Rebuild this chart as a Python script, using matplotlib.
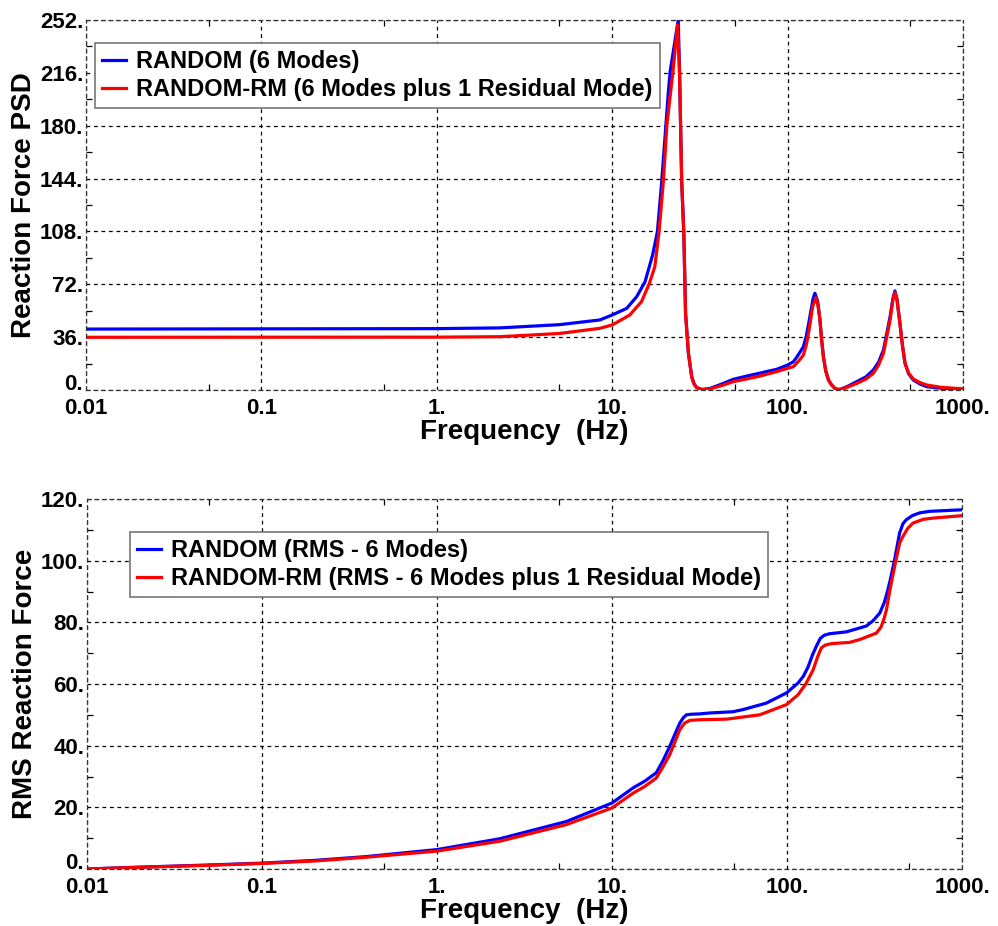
import matplotlib
matplotlib.use('Agg')
import matplotlib.pyplot as plt
from matplotlib.ticker import FixedLocator, FixedFormatter, MultipleLocator

plt.rcParams['font.family'] = ['Liberation Sans', 'DejaVu Sans']
plt.rcParams['font.weight'] = 'bold'

# ---------------- data: Reaction Force PSD ----------------
psd_freq_random = [0.01, 1, 2.29, 5, 8.5, 10, 12.1, 13.8, 15.4, 17.0, 18.1, 19.1, 20.9, 21.4,
                   23.8, 24.2, 24.9, 25.6, 26.2, 27.2, 28.4, 29.2, 30.2, 32.4, 36.1, 42, 49.1,
                   60, 69.6, 86.7, 100, 108, 113, 118, 123, 128, 133, 139.6, 143, 148, 153,
                   156, 160, 165, 171, 178, 186, 193, 200, 220, 248, 280, 308, 330, 352,
                   384, 398, 409, 420, 437, 452, 467, 490, 521, 570, 621, 750, 1000]
psd_random = [41.5, 41.8, 42.3, 44.5, 47.7, 51.1, 55.6, 63.6, 73.8, 92.0, 107.8, 140.0, 203.0, 217.0,
              252.0, 217.0, 142.0, 107.0, 52.0, 25.0, 9.0, 4.5, 1.8, 0.3, 1.1, 4.0, 7.3,
              9.8, 11.5, 14.1, 17.0, 19.3, 22.5, 26.0, 29.5, 37.0, 47.7, 62.0, 65.9, 61.0, 47.7,
              35.0, 22.7, 13.0, 6.8, 3.5, 1.1, 0.5, 0.5, 2.5, 5.7, 9.0, 13.6, 19.0, 27.2,
              49.9, 62.0, 67.5, 62.0, 45.4, 30.0, 18.2, 11.0, 6.8, 4.0, 2.3, 1.2, 0.5]

psd_freq_rm = [0.01, 1, 2.29, 5, 8.5, 10, 12.6, 14.7, 16.3, 17.5, 18.5, 19.6, 20.5, 22.2,
               23.6, 24.2, 24.9, 25.6, 26.2, 27.2, 28.4, 29.2, 30.2, 32.4, 36.1, 42, 49.1,
               60, 69.6, 86.7, 100, 108, 113, 118, 123, 128, 133, 139, 145, 149, 153,
               156, 160, 165, 171, 178, 186, 193, 200, 220, 248, 280, 308, 330, 352,
               384, 398, 409, 420, 437, 452, 467, 490, 521, 570, 621, 750, 1000]
psd_rm = [35.9, 36.0, 36.3, 38.5, 42.0, 44.3, 51.1, 60.2, 72.7, 84.0, 107.8, 143.0, 180.5, 217.0,
          248.6, 217.0, 142.0, 107.0, 52.0, 25.0, 9.0, 4.5, 1.8, 0.3, 0.8, 3.0, 5.7,
          7.8, 9.5, 12.5, 14.8, 15.9, 18.5, 21.0, 23.8, 31.0, 42.0, 57.0, 62.9, 58.0, 47.7,
          35.0, 22.7, 13.0, 6.8, 3.5, 1.1, 0.3, 0.3, 2.0, 4.5, 7.5, 11.3, 17.0, 25.0,
          47.7, 61.0, 66.5, 62.0, 45.4, 30.0, 18.5, 11.5, 7.5, 5.0, 3.4, 1.8, 0.8]

# ---------------- data: RMS Reaction Force ----------------
rms_freq_random = [0.01, 0.02, 0.05, 0.1, 0.2, 0.39, 1, 2.28, 5.49, 10, 13.2, 15.4, 17.9, 19.5,
                   21.4, 23, 24.4, 25.5, 26.6, 28.5, 31.7, 36.1, 49.1, 56.1, 76.2, 99.3,
                   115.6, 124, 131.9, 140, 147, 155, 163, 175, 218, 284, 310, 339, 360, 375,
                   390, 412, 440, 460, 481, 520, 573, 653, 1000]
rms_random = [0.0, 0.6, 1.3, 1.9, 2.8, 4.0, 6.3, 9.8, 15.4, 21.4, 26.3, 28.5, 31.2, 35.0,
              39.8, 44.0, 47.3, 49.0, 50.0, 50.2, 50.3, 50.6, 51.0, 51.7, 53.8, 57.1,
              60.3, 62.5, 65.5, 69.5, 72.2, 74.8, 75.8, 76.3, 76.9, 78.8, 80.5, 83.0, 86.5, 90.0,
              94.0, 100.3, 109.0, 112.0, 113.3, 114.6, 115.5, 116.0, 116.5]

rms_freq_rm = [0.01, 0.02, 0.05, 0.1, 0.2, 0.39, 1, 2.28, 5.49, 10, 13.2, 15.4, 17.9, 19.5,
               21.4, 23, 24.4, 26, 27.8, 31.7, 45.1, 69.8, 99.3, 115.6, 128, 135, 141, 150,
               157, 165, 180, 228, 260, 324, 345, 360, 370, 386, 400, 412, 440, 460, 490,
               525, 600, 682, 1000]
rms_rm = [0.0, 0.55, 1.2, 1.8, 2.6, 3.8, 5.8, 9.0, 14.4, 19.8, 24.6, 26.8, 29.5, 33.0,
          37.1, 41.5, 45.2, 47.3, 48.2, 48.4, 48.6, 50.0, 53.3, 56.5, 60.0, 62.5, 64.6, 69.0,
          71.7, 72.6, 73.1, 73.5, 74.4, 76.5, 78.5, 81.5, 84.1, 90.0, 94.5, 98.1, 105.7, 107.9, 110.5,
          112.2, 113.4, 113.8, 114.6]

x_ticks = [0.01, 0.1, 1, 10, 100, 1000]
x_tick_labels = ['0.01', '0.1', '1.', '10.', '100.', '1000.']
x_minor = [0.05, 0.5, 5, 50, 500]
psd_ticks = [0, 36, 72, 108, 144, 180, 216, 252]
psd_tick_labels = ['0.', '36.', '72.', '108.', '144.', '180.', '216.', '252.']
rms_ticks = [0, 20, 40, 60, 80, 100, 120]
rms_tick_labels = ['0.', '20.', '40.', '60.', '80.', '100.', '120.']

W, H = 998, 926
fig = plt.figure(figsize=(W / 100, H / 100), dpi=100)
ax1 = fig.add_axes([86 / W, 1 - 390 / H, (963 - 86) / W, 370 / H])
ax2 = fig.add_axes([87 / W, 1 - 869 / H, (962 - 87) / W, 370 / H])

BLUE = '#0000ff'
RED = '#ff0000'


def style(ax, yticks, ylabels, yminor, ylim):
    ax.set_xscale('log')
    ax.set_xlim(0.01, 1000)
    ax.set_ylim(*ylim)
    ax.xaxis.set_major_locator(FixedLocator(x_ticks))
    ax.xaxis.set_major_formatter(FixedFormatter(x_tick_labels))
    ax.xaxis.set_minor_locator(FixedLocator(x_minor))
    ax.xaxis.set_minor_formatter(FixedFormatter([''] * len(x_minor)))
    ax.yaxis.set_major_locator(FixedLocator(yticks))
    ax.yaxis.set_major_formatter(FixedFormatter(ylabels))
    ax.yaxis.set_minor_locator(MultipleLocator(yminor))
    ax.grid(True, which='major', color='black', linestyle=(0, (3, 3)), linewidth=0.9)
    ax.tick_params(which='major', direction='in', length=0, labelsize=16, pad=2)
    ax.tick_params(axis='x', which='major', pad=6)
    ax.tick_params(which='minor', direction='in', length=4, width=0.9,
                   top=True, right=True, bottom=True, left=True)
    for lab in ax.get_xticklabels() + ax.get_yticklabels():
        lab.set_fontweight('bold')
    ax.get_yticklabels()[0].set_verticalalignment('baseline')
    for sp in ax.spines.values():
        sp.set_linestyle((0, (3, 3)))
        sp.set_linewidth(0.9)
        sp.set_color('#333333')
    ax.set_xlabel('Frequency  (Hz)', fontsize=20, fontweight='bold', labelpad=0)


ax1.plot(psd_freq_random, psd_random, color=BLUE, lw=2.3, label='RANDOM (6 Modes)')
ax1.plot(psd_freq_rm, psd_rm, color=RED, lw=2.3, label='RANDOM-RM (6 Modes plus 1 Residual Mode)')
style(ax1, psd_ticks, psd_tick_labels, 18, (0, 252))
ax1.set_ylabel('Reaction Force PSD', fontsize=20, fontweight='bold', labelpad=2)

ax2.plot(rms_freq_random, rms_random, color=BLUE, lw=2.3, label='RANDOM (RMS - 6 Modes)')
ax2.plot(rms_freq_rm, rms_rm, color=RED, lw=2.3,
         label='RANDOM-RM (RMS - 6 Modes plus 1 Residual Mode)')
style(ax2, rms_ticks, rms_tick_labels, 10, (0, 120))
ax2.set_ylabel('RMS Reaction Force', fontsize=20, fontweight='bold', labelpad=2)

for ax, anchor in ((ax1, (95 / W, 1 - 43 / H)), (ax2, (130 / W, 1 - 532 / H))):
    leg = ax.legend(loc='upper left', bbox_to_anchor=anchor, bbox_transform=fig.transFigure,
                    borderaxespad=0, fancybox=False, framealpha=1, edgecolor='#777777',
                    prop={'size': 17, 'weight': 'bold'}, handlelength=1.0,
                    handletextpad=0.45, labelspacing=0.2, borderpad=0.3)
    leg.get_frame().set_linewidth(1.2)

fig.savefig('out.png', dpi=100)
